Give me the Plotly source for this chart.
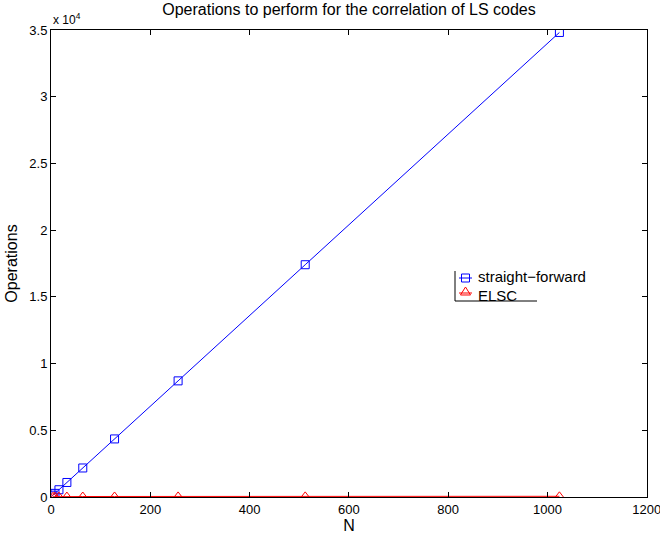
import plotly.graph_objects as go

N = [4, 8, 16, 32, 64, 128, 256, 512, 1024]
straight_forward = [136, 272, 544, 1088, 2176, 4352, 8704, 17408, 34816]
elsc = [20, 24, 28, 32, 36, 40, 44, 48, 52]
series_names = ["straight\u2212forward", "ELSC"]

ytickvals = [0, 5000, 10000, 15000, 20000, 25000, 30000, 35000]
yticktext = ["0", "0.5", "1", "1.5", "2", "2.5", "3", "3.5"]
xtickvals = [0, 200, 400, 600, 800, 1000, 1200]

FONT = "Liberation Sans, Arial, Helvetica, sans-serif"
BLUE = "#0000ff"
RED = "#ff0000"

# plot area in pixels (for converting legend decoration positions)
L, R, T, B = 51, 647, 30, 497
def px(x):
    return (x - L) / (R - L)
def py(y):
    return (B - y) / (B - T)

fig = go.Figure()
fig.add_trace(go.Scatter(x=N, y=straight_forward, mode="lines+markers", name=series_names[0],
                         line=dict(color=BLUE, width=1), showlegend=False,
                         marker=dict(symbol="square-open", size=8, color=BLUE, line=dict(width=1))))
fig.add_trace(go.Scatter(x=N, y=elsc, mode="lines+markers", name=series_names[1],
                         line=dict(color=RED, width=1), showlegend=False,
                         marker=dict(symbol="triangle-up-open", size=9, color=RED, line=dict(width=1))))

axis_common = dict(showline=True, linecolor="black", linewidth=1, mirror="ticks", ticks="inside",
                   ticklen=5, tickcolor="black", showgrid=False, zeroline=False,
                   ticklabeloverflow="allow", automargin=False,
                   tickfont=dict(family=FONT, size=13, color="black"))

fig.update_layout(
    width=660, height=537,
    margin=dict(l=L, r=660 - R, t=T, b=537 - B, autoexpand=False),
    paper_bgcolor="white", plot_bgcolor="white",
    font=dict(family=FONT, color="black"),
    title=dict(text="Operations to perform for the correlation of LS codes", x=0.5, xref="paper",
               xanchor="center", y=1 - 4 / 537, yanchor="top",
               font=dict(family=FONT, size=16, color="black")),
    xaxis=dict(range=[0, 1200.4], tickvals=xtickvals,
               title=dict(text="N", font=dict(family=FONT, size=16), standoff=2), **axis_common),
    yaxis=dict(range=[0, 35000], tickvals=ytickvals, ticktext=yticktext,
               title=dict(text="Operations", font=dict(family=FONT, size=16), standoff=7), **axis_common),
    showlegend=False,
)

fig.add_annotation(text="x 10<sup>4</sup>", xref="paper", yref="paper", x=0.0, y=1.0, yshift=1,
                   xanchor="left", yanchor="bottom", showarrow=False,
                   font=dict(family=FONT, size=12, color="black"))

# ---- legend (drawn as decoration, MATLAB style with partial frame) ----
line_black = dict(color="black", width=1)
fig.add_shape(type="line", xref="paper", yref="paper", x0=px(455), x1=px(455), y0=py(301), y1=py(271),
              line=line_black)
fig.add_shape(type="line", xref="paper", yref="paper", x0=px(455), x1=px(537), y0=py(301), y1=py(301),
              line=line_black)

rows = [(278, 276.5, BLUE, "square"), (293, 295, RED, "triangle")]
for (yrow, ytext, col, sym), name in zip(rows, series_names):
    fig.add_shape(type="line", xref="paper", yref="paper", x0=px(459), x1=px(472), y0=py(yrow), y1=py(yrow),
                  line=dict(color=col, width=1))
    cx = 465.5
    if sym == "square":
        fig.add_shape(type="rect", xref="paper", yref="paper", x0=px(cx - 4), x1=px(cx + 4),
                      y0=py(yrow + 4), y1=py(yrow - 4), line=dict(color=col, width=1))
    else:
        path = "M {:.5f},{:.5f} L {:.5f},{:.5f} L {:.5f},{:.5f} Z".format(
            px(cx - 5), py(yrow + 2), px(cx + 5), py(yrow + 2), px(cx), py(yrow - 6))
        fig.add_shape(type="path", xref="paper", yref="paper", path=path, line=dict(color=col, width=1))
    fig.add_annotation(text=name, xref="paper", yref="paper", x=px(477), y=py(ytext),
                       xanchor="left", yanchor="middle", showarrow=False, borderpad=0,
                       font=dict(family=FONT, size=15, color="black"))

fig.write_html("out.html")
